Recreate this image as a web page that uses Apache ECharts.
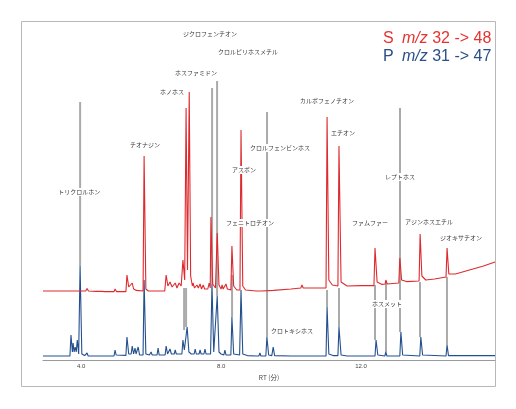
<!DOCTYPE html>
<html><head><meta charset="utf-8">
<script src="https://cdn.jsdelivr.net/npm/echarts@6/dist/echarts.min.js"></script>
<style>html,body{margin:0;padding:0;background:#fff}#c{width:516px;height:409px}</style>
</head><body><div id="c"></div>
<script>
// Retention time axis (min)
const rtRange = [2.91, 15.83];
const tickValues = [4, 8, 12];
const axisName = 'RT (分)';

// S trace (m/z 32 -> 48), [RT, intensity]
const traceS = [
 [2.91,34.5],[4.13,34.5],[4.17,35.8],[4.21,34.5],[4.43,34.3],[4.46,35.2],[4.50,34.3],
 [4.60,34.3],[4.63,35.0],[4.67,34.2],[4.94,34.2],[4.97,35.5],[5.01,34.2],
 [5.28,34.2],[5.31,42.5],[5.36,36.5],[5.41,35.5],[5.46,38.5],[5.50,35.5],[5.54,36.5],[5.58,34.8],
 [5.77,34.5],[5.80,102],[5.85,35.5],[5.92,34.5],
 [6.39,34.5],[6.43,42.5],[6.48,37],[6.54,39],[6.60,36.5],[6.69,38.5],[6.74,36],[6.80,38.5],[6.86,37],
 [6.91,50],[6.96,40],[7.00,126],[7.04,45],[7.09,134],[7.13,42],[7.18,37],[7.20,38.5],[7.24,36],
 [7.31,37.5],[7.35,36],[7.40,38],[7.44,35.5],[7.49,37.5],[7.53,35.5],[7.62,35.5],[7.66,38.5],[7.69,36],
 [7.71,71.5],[7.76,38],[7.84,36],[7.89,63.5],[7.94,37.5],[8.00,35.5],[8.03,37.5],[8.06,35.5],
 [8.14,38],[8.18,35.5],[8.28,35],[8.31,57],[8.36,37],[8.45,35],[8.54,35],[8.57,115],[8.62,37],[8.70,35],
 [9.00,34.5],[9.08,34.5],[9.11,35.2],[9.15,34.5],[9.50,34.8],[10.00,35.5],[10.28,36],[10.31,37.5],[10.35,36],
 [10.80,36],[11.00,36],[11.03,121.5],[11.08,40],[11.18,37.5],[11.34,37],[11.37,107],[11.43,39],[11.60,37],
 [12.00,37.2],[12.37,37.2],[12.40,56],[12.46,39],[12.60,37.8],[12.69,38],[12.71,40],[12.75,38],
 [13.08,38.5],[13.11,51],[13.16,40],[13.30,39.2],[13.66,39.5],[13.69,63],[13.74,42],[13.85,40],
 [14.10,40.5],[14.43,41.5],[14.46,56],[14.51,43],[14.70,43],[15.10,45],[15.50,47],[15.83,49]
];

// P trace (m/z 31 -> 47), [RT, intensity]
const traceP = [
 [2.91,2],[3.68,2],[3.71,12.5],[3.75,4],[3.77,8.5],[3.80,4],[3.83,6.5],[3.86,4],[3.89,10],[3.93,3],
 [3.97,47],[4.02,3],[4.10,2.2],[4.15,2],[4.17,3.5],[4.20,2],[4.60,2],[4.63,3],[4.66,2],[4.94,2],[4.97,5],[5.00,2.5],
 [5.28,2.3],[5.31,11.5],[5.36,3],[5.43,3],[5.46,7],[5.50,3],[5.54,6],[5.57,3],[5.60,3],[5.63,6.5],[5.67,2.5],
 [5.77,2.5],[5.80,40],[5.85,3],[5.95,2.5],[6.00,4],[6.03,2.5],[6.17,2.5],[6.20,6],[6.23,2.5],
 [6.40,2.5],[6.43,7],[6.47,3],[6.51,3],[6.54,5.5],[6.58,3],[6.66,3],[6.69,5],[6.72,3],
 [6.88,3],[6.91,10],[6.95,5],[7.03,16.5],[7.08,4],[7.15,3],[7.23,3],[7.26,5.5],[7.29,3],[7.37,3],[7.40,5],[7.43,3],
 [7.51,3],[7.54,5.5],[7.57,3],[7.70,3],[7.74,38],[7.79,4],[7.84,3],[7.89,32],[7.94,4],[8.00,3],
 [8.08,2.5],[8.11,5],[8.14,2.5],[8.28,2.5],[8.31,21.5],[8.36,3],[8.53,2.5],[8.57,35],[8.62,3],[8.75,2.2],
 [9.00,2],[9.08,2],[9.11,3.5],[9.14,2],[9.28,2],[9.31,11.5],[9.36,2.5],[9.45,2.2],[9.49,6.5],[9.53,2.2],
 [10.00,2],[10.28,2],[10.31,3],[10.34,2],[11.00,2],[11.03,26.5],[11.08,3],[11.20,2.2],[11.34,2.2],[11.37,16.5],
 [11.43,2.5],[11.60,2],[12.40,2],[12.43,10],[12.48,2.5],[12.68,2],[12.71,4],[12.74,2],[13.11,2],[13.14,14],
 [13.19,2.5],[13.68,2],[13.71,11.5],[13.76,2.5],[14.43,2],[14.46,7.5],[14.50,2.2],[15.83,2.2]
];

// Reference lines: [RT, top, bottom]
const refLines = [
 [3.971,129,47],[6.943,36,15],[7.0,36,16.5],[7.743,136,38],[7.886,139.5,32],[8.314,42.5,21.5],
 [9.314,124,11.5],[11.029,35,26.5],[11.371,36,16.5],[12.40,37.5,10],[12.714,39.5,4],
 [13.114,126,14],[13.686,39,11.5],[14.457,41.5,7.5]
];

// Compound labels: [name, RT, intensity]
const compounds = [
 ['ジクロフェンチオン',7.686,163],['クロルピリホスメチル',8.771,154],['ホスファミドン',7.286,143.5],
 ['ホノホス',6.6,134],['カルボフェノチオン',11.029,129.5],['チオナジン',5.829,107.5],
 ['クロルフェンビンホス',9.686,106],['エチオン',11.486,113.5],['アスポン',8.657,95],
 ['レプトホス',13.114,91.5],['トリクロルホン',3.943,84],['フェニトロチオン',8.829,68.5],
 ['ファムファー',12.257,68.5],['アジンホスエチル',13.943,69],['ジオキサチオン',14.857,61],
 ['ホスメット',12.743,28],['クロトキシホス',10.029,14.5]
];

// Legend rows
const legendModes = ['S','P'];
const legendMz = 'm/z';
const legendTransitions = ['32 -> 48','31 -> 47'];

const RED = '#de2a2e', BLUE = '#24508d';
const LEG = ['#e53430','#2a4f8a'];
const legendFont = {fontSize:16,fontFamily:'Liberation Sans'};
const legendGraphics = [];
legendModes.forEach((m,i)=>{
 const top = 31 + i*18;
 legendGraphics.push({type:'text',left:383,top:top,style:Object.assign({text:m,fill:LEG[i]},legendFont)});
 legendGraphics.push({type:'text',left:402,top:top,style:Object.assign({text:'{b|'+legendMz+'} '+legendTransitions[i],fill:LEG[i],
   rich:{b:Object.assign({fontStyle:'italic',fill:LEG[i]},legendFont)}},legendFont)});
});

const chart = echarts.init(document.getElementById('c'), null, {renderer:'canvas'});
chart.setOption({
 animation:false,
 backgroundColor:'#fff',
 grid:{left:43,right:21,top:22,bottom:49},
 xAxis:{type:'value',min:rtRange[0],max:rtRange[1],
  name:axisName,nameLocation:'middle',nameGap:9,
  nameTextStyle:{fontSize:6.5,color:'#444',fontFamily:'"Noto Sans CJK JP"'},
  axisLine:{lineStyle:{color:'#9a9a9a',width:1}},axisTick:{show:false},splitLine:{show:false},
  axisLabel:{customValues:tickValues,formatter:v=>v.toFixed(1),fontSize:6,color:'#444',margin:3,fontFamily:'Liberation Sans'}},
 yAxis:{type:'value',min:0,max:169,show:false},
 graphic:[
  {type:'rect',shape:{x:21.5,y:21.5,width:474,height:365},style:{fill:'none',stroke:'#b8b8b8',lineWidth:1},z:0}
 ].concat(legendGraphics),
 series:[
  {type:'custom',z:1,data:refLines,encode:{x:0,y:[1,2]},
   renderItem:(params,api)=>{
    const a=api.coord([api.value(0),api.value(1)]), b=api.coord([api.value(0),api.value(2)]);
    return {type:'line',shape:{x1:a[0],y1:a[1],x2:b[0],y2:b[1]},style:{stroke:'#aaaaaa',lineWidth:2}};
   }},
  {type:'line',name:'P',z:2,data:traceP,showSymbol:false,lineStyle:{color:BLUE,width:1.1},itemStyle:{color:BLUE}},
  {type:'line',name:'S',z:3,data:traceS,showSymbol:false,lineStyle:{color:RED,width:1.1},itemStyle:{color:RED}},
  {type:'custom',z:5,data:compounds.map(c=>[c[1],c[2]]),encode:{x:0,y:1},
   renderItem:(params,api)=>{
    const p=api.coord([api.value(0),api.value(1)]);
    return {type:'text',x:p[0],y:p[1],style:{text:compounds[params.dataIndex][0],fill:'#3a3a3a',
      fontSize:6,fontFamily:'"Noto Sans CJK JP"',align:'center',verticalAlign:'middle',
      backgroundColor:'#fff',padding:[1,1]}};
   }}
 ]
});
</script></body></html>
